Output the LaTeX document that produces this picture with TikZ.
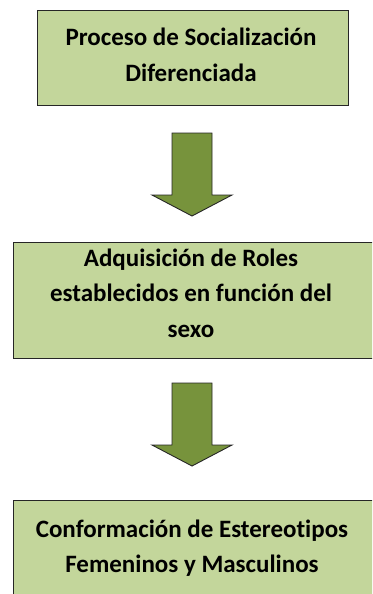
\documentclass[tikz,border=0pt]{standalone}
\usepackage{fontspec}
\setmainfont{Carlito}[Ligatures=NoCommon]
\usetikzlibrary{calc}
\definecolor{boxfill}{HTML}{C3D69B}
\definecolor{arrowfill}{HTML}{77933C}
\definecolor{edge}{HTML}{262626}
\tikzset{
  box/.style={draw=edge, line width=1.1pt, fill=boxfill, rectangle, inner sep=0pt, anchor=north west},
  txt/.style={align=center, font=\fontsize{25}{35.5}\selectfont\bfseries, text=black, inner sep=0pt},
  blockarrow/.style={draw=edge, line width=0.9pt, fill=arrowfill, line join=miter},
  downarrow/.pic={\draw[blockarrow] (-20pt,0pt) -- (20pt,0pt) -- (20pt,-62pt) -- (40pt,-62pt) -- (0pt,-83pt) -- (-40pt,-62pt) -- (-20pt,-62pt) -- cycle;}
}
\begin{document}
\begin{tikzpicture}[x=1pt,y=1pt]
\useasboundingbox (0,0) rectangle (372,-594);
\clip (0,0) rectangle (372,-594);
\node[box, minimum width=311pt, minimum height=95pt] (b1) at (37,-10) {};
\node[txt] (t1) at (191,-55) {Proceso de Socialización\\Diferenciada};
\pic at (192,-133) {downarrow};
\node[box, minimum width=370pt, minimum height=116pt] (b2) at (13,-242) {};
\node[txt] (t2) at (191,-293) {Adquisición de Roles\\establecidos en función del\\sexo};
\pic at (192,-383) {downarrow};
\node[box, minimum width=370pt, minimum height=130pt] (b3) at (13,-500) {};
\node[txt] (t3) at (192,-548) {Conformación de Estereotipos\\Femeninos y Masculinos};
\end{tikzpicture}
\end{document}
